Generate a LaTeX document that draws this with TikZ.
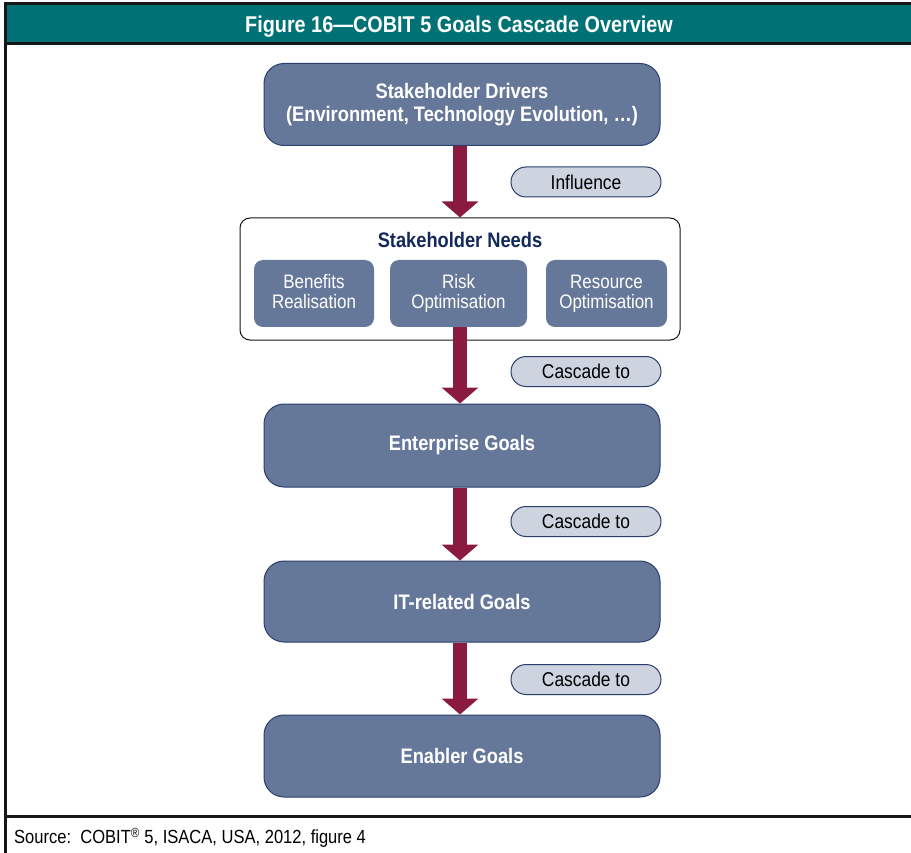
\documentclass[tikz,border=0pt]{standalone}
\usepackage{fontspec}
\setmainfont{Liberation Sans}[FakeStretch=0.87]
\usetikzlibrary{arrows.meta,calc}
\definecolor{teal1}{HTML}{007175}
\definecolor{boxfill}{HTML}{66789A}
\definecolor{boxline}{HTML}{2A3F6E}
\definecolor{pillfill}{HTML}{CDD3DF}
\definecolor{crimson}{HTML}{8A1A3F}
\definecolor{navy}{HTML}{14295B}
\definecolor{frame}{HTML}{161616}
\tikzset{
  bigbox/.style={draw=boxline, line width=1pt, fill=boxfill, rounded corners=20pt,
    minimum width=396pt, minimum height=82pt, text=white, font=\fontsize{21}{23}\selectfont\bfseries, align=center, inner sep=0pt},
  subbox/.style={fill=boxfill, rounded corners=9pt, minimum height=67pt, text=white,
    font=\fontsize{19.5}{20}\selectfont, align=center, inner sep=0pt},
  pill/.style={draw=boxline, line width=1pt, fill=pillfill, rounded corners=15pt,
    minimum width=150pt, minimum height=30pt, inner sep=0pt, font=\fontsize{20}{22}\selectfont},
  cascade/.style={draw=crimson, line width=14pt, -{Triangle[width=36pt,length=16pt]}},
  frameline/.style={draw=frame, line width=3pt}
}
\begin{document}
\begin{tikzpicture}[x=1pt,y=-1pt]
\fill[white] (0,0) rectangle (911,853);
\useasboundingbox (0,0) rectangle (911,853);
% title bar
\fill[teal1] (5,4) rectangle (911,44);
\draw[frameline] (3.5,4) -- (911,4);
\draw[frameline] (3.5,44) -- (911,44);
\draw[frameline] (5,2.5) -- (5,853);
\draw[frameline] (3.5,816) -- (911,816);
\node[text=white, font=\fontsize{22.8}{24}\selectfont\bfseries] (title) at (459,26.5) {Figure 16—COBIT 5 Goals Cascade Overview};
\node[anchor=west, font=\fontsize{19}{21}\selectfont, inner sep=0pt] (src) at (14,838) {Source:\ \ COBIT\textsuperscript{\textregistered} 5, ISACA, USA, 2012, figure 4};

% main boxes
\node[bigbox] (drv) at (462,104.5) {Stakeholder Drivers\\[0pt](Environment, Technology Evolution, \dots)};
\node[draw=frame, line width=1pt, fill=white, rounded corners=10pt, minimum width=440pt, minimum height=122pt, inner sep=0pt] (needs) at (460,279) {};
\node[text=navy, font=\fontsize{21}{23}\selectfont\bfseries] (needst) at (460,240) {Stakeholder Needs};
\node[subbox, minimum width=120pt] (ben) at (314,293.5) {Benefits\\Realisation\vphantom{p}};
\node[subbox, minimum width=137pt] (risk) at (458.5,293.5) {Risk\\Optimisation};
\node[subbox, minimum width=121pt] (res) at (606.5,293.5) {Resource\\Optimisation};
\node[bigbox, minimum height=83pt] (ent) at (462,445.5) {Enterprise Goals};
\node[bigbox, minimum height=81pt] (itg) at (462,601.5) {IT-related Goals};
\node[bigbox] (enb) at (462,756) {Enabler Goals};

% arrows
\draw[cascade] (drv.south -| 460,0) -- (needs.north -| 460,0);
\draw[cascade] (risk.south -| 460,0) -- (ent.north -| 460,0);
\draw[cascade] (ent.south -| 460,0) -- (itg.north -| 460,0);
\draw[cascade] (itg.south -| 460,0) -- (enb.north -| 460,0);

% pills
\node[pill] (p1) at (586,182) {Influence};
\node[pill] (p2) at (586,371.5) {Cascade to};
\node[pill] (p3) at (586,521.5) {Cascade to};
\node[pill] (p4) at (586,679.5) {Cascade to};
\end{tikzpicture}
\end{document}
